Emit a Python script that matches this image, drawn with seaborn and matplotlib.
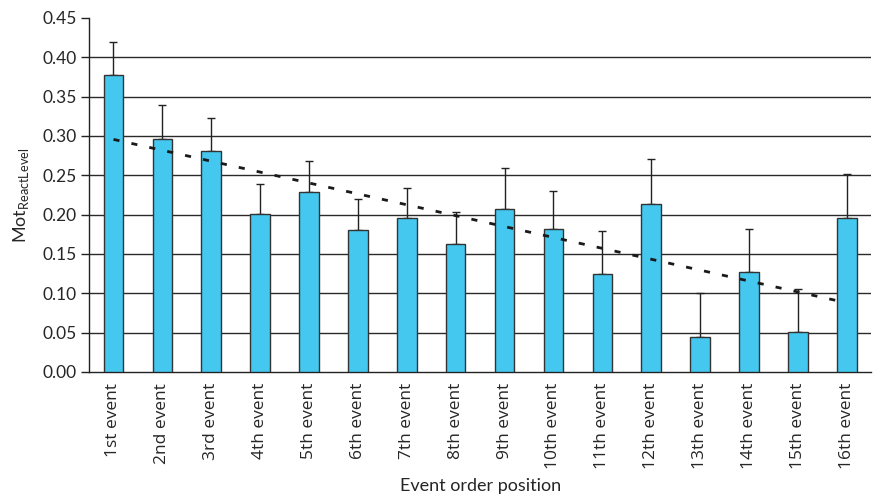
import numpy as np
import pandas as pd
import matplotlib
matplotlib.use("Agg")
import matplotlib.pyplot as plt
import seaborn as sns

# Mean motivation reaction level per event position, with upper error bounds
events = ["1st event", "2nd event", "3rd event", "4th event", "5th event",
          "6th event", "7th event", "8th event", "9th event", "10th event",
          "11th event", "12th event", "13th event", "14th event", "15th event",
          "16th event"]
means = [0.378, 0.2965, 0.281, 0.201, 0.2287, 0.180, 0.1953, 0.163,
         0.2075, 0.1817, 0.1249, 0.2135, 0.0441, 0.1267, 0.0512, 0.1953]
upper = [0.420, 0.340, 0.3227, 0.239, 0.2685, 0.2194, 0.2334, 0.2029,
         0.2592, 0.230, 0.179, 0.271, 0.1008, 0.1817, 0.105, 0.252]
y_ticks = [0.00, 0.05, 0.10, 0.15, 0.20, 0.25, 0.30, 0.35, 0.40, 0.45]

df = pd.DataFrame({"event": events, "mean": means, "upper": upper})

sns.set_style("white")
plt.rcParams["font.family"] = ["Lato", "DejaVu Sans"]

fig = plt.figure(figsize=(8.73, 4.95), dpi=100)
ax = fig.add_axes([0.102, 0.2485, 0.896, 0.7152])

sns.barplot(data=df, x="event", y="mean", color="#44C8F0", saturation=1,
            width=0.4, edgecolor="#333333", linewidth=1.0, ax=ax, zorder=3,
            errorbar=None)

pos = np.arange(len(events))
err = np.array(upper) - np.array(means)
ax.errorbar(pos, means, yerr=[np.zeros_like(err), err], fmt="none",
            ecolor="#222222", elinewidth=1.0, capsize=2.6, capthick=1.0, zorder=2)

# Linear trend across event positions
slope, intercept = np.polyfit(pos, means, 1)
ax.plot(pos, intercept + slope * pos, color="#1a1a1a", lw=2.0,
        linestyle=(0, (2.2, 4.4)), zorder=4)

ax.set_xlim(-0.5, len(events) - 0.5)
ax.set_ylim(0, 0.45)
ax.set_yticks(y_ticks)
ax.set_yticklabels([f"{v:.2f}" for v in y_ticks], fontsize=12.5)
for v in y_ticks[1:-1]:
    ax.axhline(v, color="#2a2a2a", lw=1.0, zorder=1)

ax.set_xticks(pos)
ax.set_xticklabels(events, rotation=90, fontsize=12.5,
                   family=["Open Sans", "DejaVu Sans"])
ax.set_xticks(np.arange(len(events) + 1) - 0.5, minor=True)
ax.tick_params(axis="x", which="major", length=0, pad=8)
ax.tick_params(axis="x", which="minor", length=6, width=1, color="#222222",
               direction="out")
ax.tick_params(axis="y", length=6, width=1, color="#222222", direction="out",
               left=True, pad=3)

for s in ["top", "right"]:
    ax.spines[s].set_visible(False)
for s in ["left", "bottom"]:
    ax.spines[s].set_color("#222222")
    ax.spines[s].set_linewidth(1.0)

ax.set_xlabel("Event order position", fontsize=13, labelpad=6)
ax.set_ylabel(r"Mot$_{\mathregular{ReactLevel}}$", fontsize=13, labelpad=8)

fig.savefig("out.png", dpi=100)
